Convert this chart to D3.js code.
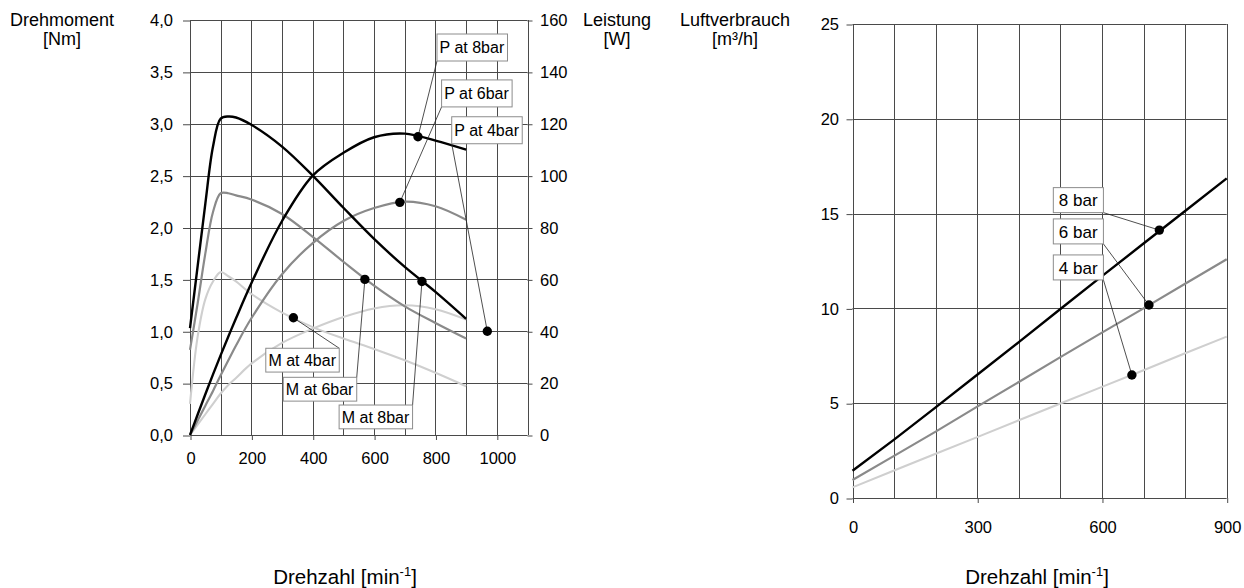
<!DOCTYPE html>
<html><head><meta charset="utf-8">
<script src="https://cdn.jsdelivr.net/npm/d3@7"></script>
<style>
body{margin:0;background:#fff;}
text{font-family:Arial,"Liberation Sans",Helvetica,sans-serif;fill:#000;}
</style>
</head><body>
<svg id="c" width="1244" height="588"></svg>
<script>
// ---------- data (left chart: torque M [Nm] and power P [W] vs speed) ----------
const rpm      = [0, 25, 50, 75, 100, 125, 150, 200, 300, 400, 500, 600, 700, 800, 900];
const torque8  = [1.03, 1.63, 2.23, 2.78, 3.05, 3.07, 3.06, 2.99, 2.78, 2.50, 2.19, 1.89, 1.62, 1.38, 1.12];
const torque6  = [0.82, 1.27, 1.75, 2.15, 2.33, 2.33, 2.31, 2.27, 2.13, 1.91, 1.67, 1.44, 1.24, 1.08, 0.93];
const torque4  = [0.30, 0.95, 1.31, 1.48, 1.57, 1.53, 1.48, 1.36, 1.18, 1.04, 0.93, 0.83, 0.72, 0.60, 0.47];
const power8   = [0, 7.9, 15.7, 23.4, 30.8, 38, 45, 58.5, 82.5, 100, 108.8, 114.8, 116.2, 113.5, 110];
const power6   = [0, 5.6, 11.3, 17, 23, 28.8, 34.5, 45, 62, 74, 82.5, 87.5, 90, 88.2, 83];
const power4   = [0, 4, 8, 12, 16, 19.3, 22, 27.5, 35.5, 41, 45.5, 48.8, 50, 48.5, 44.5];
const torqueLabels = ["M at 4bar", "M at 6bar", "M at 8bar"];
const torqueMarks  = [[337, 1.13], [570, 1.50], [756, 1.48]];
const powerLabels  = ["P at 8bar", "P at 6bar", "P at 4bar"];
const powerMarks   = [[743, 115], [684, 89.7], [969, 40]];
const leftXTicks   = [0, 200, 400, 600, 800, 1000];
const leftYTicks   = [0, 0.5, 1, 1.5, 2, 2.5, 3, 3.5, 4];
const powerTicks   = [0, 20, 40, 60, 80, 100, 120, 140, 160];

// ---------- data (right chart: air consumption [m³/h] vs speed) ----------
const rpmAir = [0, 100, 200, 300, 400, 500, 600, 700, 800, 900];
const air8   = [1.44, 3.08, 4.78, 6.5, 8.22, 9.97, 11.7, 13.42, 15.14, 16.86];
const air6   = [0.95, 2.22, 3.5, 4.82, 6.12, 7.43, 8.72, 10.0, 11.3, 12.59];
const air4   = [0.56, 1.45, 2.33, 3.21, 4.1, 4.98, 5.86, 6.74, 7.63, 8.51];
const airLabels = ["8 bar", "6 bar", "4 bar"];
const airMarks  = [[738, 14.13], [713, 10.18], [672, 6.49]];
const airXTicks = [0, 300, 600, 900];
const airYTicks = [0, 5, 10, 15, 20, 25];

// ---------- layout ----------
const svg = d3.select("#c");
const xL = d3.scaleLinear([0, 1100], [190, 527.5]);
const yM = d3.scaleLinear([0, 4], [435, 20]);
const yP = d3.scaleLinear([0, 160], [435, 20]);
const xR = d3.scaleLinear([0, 900], [852.5, 1226.7]);
const yA = d3.scaleLinear([0, 25], [498, 24]);
const GRID = "#4a4a4a";
const snap = v => Math.round(v) + 0.5;
const comma = d => d3.format(".1f")(d).replace(".", ",");
const colors = {8: "#000", 6: "#8a8a8a", 4: "#cfcfcf"};
const widths = {8: 2.4, 6: 2.2, 4: 2.1};

// ---------- left chart grid ----------
const gL = svg.append("g");
gL.selectAll(".v").data(d3.range(0, 1101, 100)).join("line")
  .attr("x1", d => snap(xL(d))).attr("x2", d => snap(xL(d)))
  .attr("y1", yM(4)).attr("y2", yM(0))
  .attr("stroke", GRID).attr("stroke-width", 1);
gL.selectAll(".h").data(leftYTicks).join("line")
  .attr("x1", xL(0)).attr("x2", xL(1100))
  .attr("y1", d => snap(yM(d))).attr("y2", d => snap(yM(d)))
  .attr("stroke", GRID).attr("stroke-width", 1);

function styleAxis(g, fs) {
  g.select(".domain").remove();
  g.selectAll(".tick line").attr("stroke", GRID);
  g.selectAll(".tick text").attr("font-size", fs).attr("font-family", "Arial, 'Liberation Sans', sans-serif").attr("fill", "#000");
}
svg.append("g").attr("transform", "translate(0.5," + yM(0) + ")")
  .call(d3.axisBottom(xL).tickValues(leftXTicks).tickSize(5).tickPadding(12).tickFormat(d3.format("d")))
  .call(g => styleAxis(g, 16.5));
svg.append("g").attr("transform", "translate(" + xL(0) + ",0.5)")
  .call(d3.axisLeft(yM).tickValues(leftYTicks).tickSize(7).tickPadding(10).tickFormat(comma))
  .call(g => styleAxis(g, 16.5));
svg.append("g").attr("transform", "translate(" + xL(1100) + ",0.5)")
  .call(d3.axisRight(yP).tickValues(powerTicks).tickSize(5).tickPadding(7.5).tickFormat(d3.format("d")))
  .call(g => styleAxis(g, 16.5));

// ---------- left chart curves ----------
const smooth = d3.curveCatmullRom.alpha(0.5);
const lineM = d3.line().x(d => xL(d[0])).y(d => yM(d[1])).curve(smooth);
const lineP = d3.line().x(d => xL(d[0])).y(d => yP(d[1])).curve(smooth);
const zipS = (xs, ys) => xs.map((x, i) => [x, ys[i]]);
const leftSeries = [
  {bar: 4, m: torque4, p: power4},
  {bar: 6, m: torque6, p: power6},
  {bar: 8, m: torque8, p: power8}
];
leftSeries.forEach(s => {
  svg.append("path").attr("d", lineM(zipS(rpm, s.m))).attr("fill", "none")
    .attr("stroke", colors[s.bar]).attr("stroke-width", widths[s.bar]).attr("stroke-linejoin", "round");
  svg.append("path").attr("d", lineP(zipS(rpm, s.p))).attr("fill", "none")
    .attr("stroke", colors[s.bar]).attr("stroke-width", widths[s.bar]).attr("stroke-linejoin", "round");
});

// ---------- callouts ----------
function callout(label, dot, boxX, boxY, boxH, padX, fs, corner) {
  const g = svg.append("g");
  const t = g.append("text").attr("font-size", fs).text(label);
  const bb = t.node().getBBox();
  const w = bb.width + 2 * padX;
  const cx = corner === "bl" ? boxX : boxX + w;
  const cy = corner === "tr" ? boxY : boxY + boxH;
  g.insert("line", "text").attr("x1", dot[0]).attr("y1", dot[1]).attr("x2", cx).attr("y2", cy)
    .attr("stroke", "#222").attr("stroke-width", 0.8);
  g.insert("rect", "text").attr("x", boxX).attr("y", boxY).attr("width", w).attr("height", boxH)
    .attr("fill", "#fff").attr("stroke", "#8c8c8c").attr("stroke-width", 1);
  t.attr("x", boxX + padX).attr("y", boxY + boxH / 2).attr("dy", "0.36em");
  svg.append("circle").attr("cx", dot[0]).attr("cy", dot[1]).attr("r", 4.7).attr("fill", "#000");
}
// label box anchors in data units (x, value)
const powerBoxes  = [[805, 154.6], [820, 136.9], [853, 122.7]];
const torqueBoxes = [[247, 0.836], [304, 0.556], [486, 0.289]];
const airBoxes    = [[483, 16.37], [483, 14.72], [483, 12.82]];

powerLabels.forEach((l, i) => callout(l, [xL(powerMarks[i][0]), yP(powerMarks[i][1])],
  xL(powerBoxes[i][0]), yP(powerBoxes[i][1]), 27, 2.6, 16, "bl"));
torqueLabels.forEach((l, i) => callout(l, [xL(torqueMarks[i][0]), yM(torqueMarks[i][1])],
  xL(torqueBoxes[i][0]), yM(torqueBoxes[i][1]), 23.8, 2.6, 16, "tr"));

// ---------- right chart ----------
const gR = svg.append("g");
gR.selectAll(".v").data(d3.range(0, 901, 100)).join("line")
  .attr("x1", d => snap(xR(d))).attr("x2", d => snap(xR(d)))
  .attr("y1", yA(25)).attr("y2", yA(0))
  .attr("stroke", GRID).attr("stroke-width", 1);
gR.selectAll(".h").data(airYTicks).join("line")
  .attr("x1", xR(0)).attr("x2", xR(900))
  .attr("y1", d => snap(yA(d))).attr("y2", d => snap(yA(d)))
  .attr("stroke", GRID).attr("stroke-width", 1);
svg.append("g").attr("transform", "translate(0.5," + yA(0) + ")")
  .call(d3.axisBottom(xR).tickValues(airXTicks).tickSize(5).tickPadding(18).tickFormat(d3.format("d")))
  .call(g => styleAxis(g, 16.5));
svg.append("g").attr("transform", "translate(" + xR(0) + ",0.5)")
  .call(d3.axisLeft(yA).tickValues(airYTicks).tickSize(6).tickPadding(7.5).tickFormat(d3.format("d")))
  .call(g => styleAxis(g, 16.5));

const lineA = d3.line().x(d => xR(d[0])).y(d => yA(d[1]));
[{bar: 4, v: air4}, {bar: 6, v: air6}, {bar: 8, v: air8}].forEach(s => {
  svg.append("path").attr("d", lineA(zipS(rpmAir, s.v))).attr("fill", "none")
    .attr("stroke", colors[s.bar]).attr("stroke-width", widths[s.bar]);
});
airLabels.forEach((l, i) => callout(l, [xR(airMarks[i][0]), yA(airMarks[i][1])],
  xR(airBoxes[i][0]), yA(airBoxes[i][1]), 25, 5.5, 17, "br"));

// ---------- titles ----------
function title2(x, a, b) {
  svg.append("text").attr("x", x).attr("y", 25.5).attr("text-anchor", "middle").attr("font-size", 18).text(a);
  svg.append("text").attr("x", x).attr("y", 45).attr("text-anchor", "middle").attr("font-size", 18).text(b);
}
title2(62, "Drehmoment", "[Nm]");
title2(617, "Leistung", "[W]");
title2(735, "Luftverbrauch", "[m³/h]");
function xTitle(x) {
  const t = svg.append("text").attr("x", x).attr("y", 584).attr("text-anchor", "middle").attr("font-size", 20.5);
  t.append("tspan").text("Drehzahl [min");
  t.append("tspan").attr("dy", -8).attr("font-size", 13).text("-1");
  t.append("tspan").attr("dy", 8).text("]");
}
xTitle(345);
xTitle(1037);
</script>
</body></html>
